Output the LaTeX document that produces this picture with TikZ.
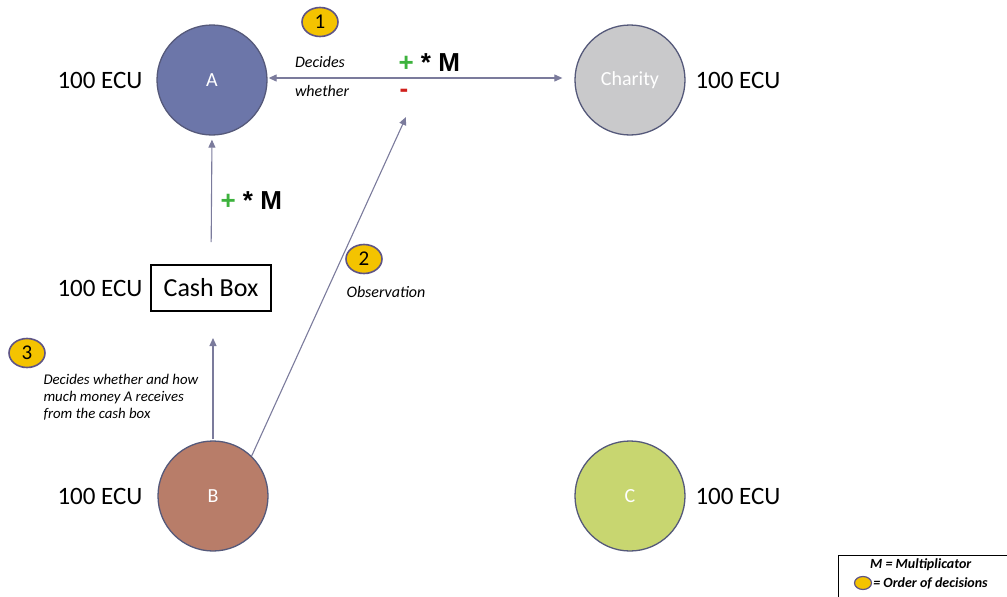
\documentclass[tikz,border=0pt]{standalone}
\usepackage{fontspec}
\setmainfont{Carlito}
\newfontfamily\arialfont{Liberation Sans}
\usetikzlibrary{arrows.meta,shapes.geometric}

\definecolor{colA}{HTML}{6C76A9}
\definecolor{colCharity}{HTML}{C9C9CB}
\definecolor{colB}{HTML}{B87D69}
\definecolor{colC}{HTML}{C8D670}
\definecolor{ringcol}{HTML}{55597A}
\definecolor{linkcol}{HTML}{7B7B9C}
\definecolor{badgefill}{HTML}{F4C300}
\definecolor{badgering}{HTML}{5E5486}
\definecolor{plusgreen}{HTML}{3DB23D}
\definecolor{minusred}{HTML}{D0201C}

\tikzset{
  player/.style={circle, minimum size=110pt, draw=ringcol, line width=1.3pt,
    text=white, font=\fontsize{20}{22}\selectfont},
  ecu/.style={font=\fontsize{25}{28}\selectfont},
  badge/.style={ellipse, minimum width=36pt, minimum height=29pt, inner sep=0pt,
    fill=badgefill, draw=badgering, line width=1.6pt, font=\fontsize{21}{22}\selectfont},
  note/.style={font=\fontsize{16}{19}\selectfont\itshape},
  gain/.style={font=\fontsize{26}{28}\selectfont\arialfont\bfseries},
  link/.style={draw=linkcol, line width=1.1pt, -{Triangle[length=8pt,width=7pt]}}
}

\begin{document}
\begin{tikzpicture}[x=1pt,y=-1pt]
\useasboundingbox (0,0) rectangle (1007,597);

% players
\node[player, fill=colA] (A) at (212,80) {A};
\node[player, fill=colCharity] (charity) at (630,80) {Charity};
\node[player, fill=colB] (B) at (213,496) {B};
\node[player, fill=colC] (C) at (630,496) {C};

\node[ecu, anchor=east] (ecuA) at (146,80) {100 ECU};
\node[ecu, anchor=west] (ecuCharity) at (692,80) {100 ECU};
\node[ecu, anchor=east] (ecuB) at (146,496) {100 ECU};
\node[ecu, anchor=west] (ecuC) at (692,496) {100 ECU};

% cash box
\node[draw, line width=2pt, minimum width=120pt, minimum height=46pt,
  font=\fontsize{26}{28}\selectfont] (box) at (211,288) {Cash Box};
\node[ecu, anchor=east] (ecuBox) at (146,288) {100 ECU};

% connectors
\draw[link, {Triangle[length=8pt,width=7pt]}-{Triangle[length=8pt,width=7pt]},
  shorten <=1pt, shorten >=12pt] (A.east |- 0,78) -- (charity.west |- 0,78);
\draw[link, shorten <=22pt, shorten >=4pt] (box.north) -- (A.south);
\draw[link, shorten <=1pt, shorten >=26pt] (B.north) -- (B.north |- box.south);
\coordinate (obs) at (406,117);
\draw[link] (B.46) -- (obs);

% labels
\node[note] (decides) at (320,62) {Decides};
\node[note] (whether) at (322,91) {whether};
\node[gain, anchor=west] (gainTop) at (395,63) {\textcolor{plusgreen}{+} * M};
\node[gain, text=minusred, anchor=west] (minus) at (396,93) {-};
\node[gain, anchor=west] (gainBox) at (217,201) {\textcolor{plusgreen}{+} * M};
\node[note, anchor=west] (observe) at (343,292) {Observation};
\node[note, anchor=north west, align=left, font=\fontsize{14.8}{17}\selectfont\itshape]
  (decidesB) at (40,371) {Decides whether and how\\much money A receives\\from the cash box};

% order badges
\node[badge] (one) at (320,22) {1};
\node[badge] (two) at (364,259) {2};
\node[badge] (three) at (27,353) {3};

% legend
\draw[line width=1pt] (838,605) -- (838,555) -- (1015,555);
\node[anchor=west, inner sep=0pt, font=\fontsize{14}{16}\selectfont\bfseries\itshape] (legM) at (870,565) {M = Multiplicator};
\node[ellipse, minimum width=17pt, minimum height=13pt, inner sep=0pt,
  fill=badgefill, draw=badgering, line width=1.2pt] (legDot) at (863,583) {};
\node[anchor=west, inner sep=1pt, font=\fontsize{14}{16}\selectfont\bfseries\itshape] (legOrder) at (legDot.east) {= Order of decisions};
\end{tikzpicture}
\end{document}
